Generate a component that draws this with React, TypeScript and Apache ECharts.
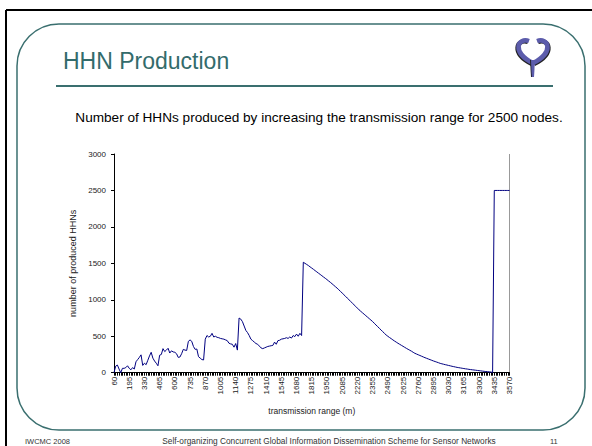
import React, { useEffect, useRef } from "react";
import * as echarts from "echarts";

// transmission range categories (m): 60 .. 3570, step 15
const ranges: string[] = [];
for (let r = 60; r <= 3570; r += 15) ranges.push(String(r));

// HHN counts
const lowRange = [
  0, 90, 105, 50, 0, 60, 60, 70, 95, 60, 40, 70, 50, 150, 180, 210, 245, 100, 130, 110,
  170, 230, 280, 200, 160, 130, 95, 240, 250, 330, 290, 310, 335, 270, 300, 285, 280, 260, 210, 215,
  260, 320, 310, 305, 430, 450, 430, 360, 320, 325, 220, 200, 180, 175, 460, 510, 490, 500, 540, 490,
  500, 485, 480, 470, 465, 460, 450, 440, 405, 395, 390, 350, 400, 310, 750, 735, 700, 640, 580, 550,
  510, 460, 440, 420, 400, 390, 365, 340, 330, 340, 350, 360, 365, 370, 375, 420, 390, 440, 445, 460,
  465, 470, 480, 470, 490, 475, 510, 495, 530, 500, 540, 510,
];
const decline = [
  1515, 1500, 1485, 1470, 1452, 1435, 1418, 1400, 1383, 1365, 1348, 1330, 1312, 1295, 1277, 1258, 1240, 1220, 1200, 1180,
  1160, 1138, 1115, 1093, 1070, 1047, 1024, 1001, 978, 955, 932, 909, 886, 862, 842, 822, 802, 782, 762, 742,
  722, 702, 678, 655, 632, 609, 586, 563, 540, 518, 500, 483, 467, 450, 434, 419, 404, 390, 376, 362,
  348, 334, 321, 308, 295, 280, 266, 256, 246, 236, 226, 216, 206, 197, 188, 179, 170, 161, 153, 145,
  137, 128, 122, 116, 110, 105, 99, 94, 88, 83, 78, 73, 69, 65, 61, 57, 53, 50, 46, 43,
  40, 37, 34, 31, 28, 25, 22, 19, 16, 14, 11, 9, 3,
];
const saturated = [2500, 2500, 2500, 2500, 2500, 2500, 2500, 2500, 2500, 2500];
const hhnCounts = [...lowRange, ...decline, ...saturated];

const yTicks = { min: 0, max: 3000, interval: 500 };

const TEAL = "#3a6f6f";
const FONT = "Liberation Sans, Arial";
const LOGO = "#5c5cab";

export default function App() {
  const ref = useRef<HTMLDivElement>(null);
  useEffect(() => {
    document.body.style.margin = "0";
    const chart = echarts.init(ref.current!, null, { renderer: "svg" });
    chart.setOption({
      animation: false,
      backgroundColor: "#ffffff",
      grid: { left: 114, top: 154, right: 82.5, bottom: 73.3, containLabel: false },
      xAxis: {
        type: "category",
        data: ranges,
        boundaryGap: false,
        name: "transmission range (m)",
        nameLocation: "middle",
        nameGap: 34,
        nameTextStyle: { fontFamily: FONT, fontSize: 8.5, color: "#222" },
        axisLine: { lineStyle: { color: "#000", width: 1 } },
        axisTick: { show: true, interval: 0, length: 3, lineStyle: { color: "#000" } },
        axisLabel: {
          interval: 8,
          rotate: 90,
          fontFamily: FONT,
          fontSize: 8,
          color: "#222",
          margin: 4,
        },
        splitLine: { show: false },
      },
      yAxis: {
        type: "value",
        min: yTicks.min,
        max: yTicks.max,
        interval: yTicks.interval,
        name: "number of produced HHNs",
        nameLocation: "middle",
        nameGap: 30,
        nameRotate: 90,
        nameTextStyle: { fontFamily: FONT, fontSize: 9, color: "#222" },
        axisLine: { show: true, lineStyle: { color: "#000", width: 1 } },
        axisTick: { show: true, length: 3, lineStyle: { color: "#000" } },
        axisLabel: {
          fontFamily: FONT,
          fontSize: 8,
          color: "#222",
          margin: 8,
          formatter: (v: number) => String(v),
        },
        splitLine: { show: false },
      },
      series: [
        {
          type: "line",
          data: hhnCounts,
          symbol: "none",
          lineStyle: { color: "#000080", width: 1 },
          itemStyle: { color: "#000080" },
        },
      ],
      graphic: [
        // slide frame
        { type: "line", shape: { x1: 6, y1: 10, x2: 592, y2: 10 }, style: { stroke: "#000", lineWidth: 2 } },
        { type: "line", shape: { x1: 6, y1: 10, x2: 6, y2: 446 }, style: { stroke: "#000", lineWidth: 2 } },
        {
          type: "rect",
          shape: { x: 17, y: 24, width: 568, height: 406, r: 42 },
          style: { fill: "none", stroke: TEAL, lineWidth: 1.5 },
        },
        // title
        {
          type: "text",
          x: 63,
          y: 61,
          style: {
            text: "HHN Production",
            fontFamily: FONT,
            fontSize: 23,
            fill: "#336b6b",
            verticalAlign: "middle",
            shadowColor: "rgba(0,0,0,0.35)",
            shadowOffsetX: 1,
            shadowOffsetY: 1,
            shadowBlur: 1,
          },
        },
        { type: "line", shape: { x1: 56, y1: 86, x2: 553, y2: 86 }, style: { stroke: TEAL, lineWidth: 2 } },
        // logo
        {
          type: "group",
          children: [
            {
              type: "bezierCurve",
              shape: { x1: 529, y1: 41, cpx1: 518, cpy1: 37, cpx2: 511, cpy2: 52, x2: 533, y2: 63 },
              style: { stroke: LOGO, lineWidth: 4.5, fill: "none", shadowColor: "#222", shadowOffsetX: -1, shadowOffsetY: 1 },
            },
            {
              type: "bezierCurve",
              shape: { x1: 537, y1: 41, cpx1: 548, cpy1: 37, cpx2: 555, cpy2: 52, x2: 533, y2: 63 },
              style: { stroke: LOGO, lineWidth: 4.5, fill: "none", shadowColor: "#222", shadowOffsetX: 1, shadowOffsetY: 1 },
            },
            {
              type: "polygon",
              shape: { points: [[531, 60], [535, 60], [534, 77], [532, 77]] },
              style: { fill: LOGO, shadowColor: "#222", shadowOffsetX: -1 },
            },
          ],
        },
        // subtitle
        {
          type: "text",
          x: 319,
          y: 117,
          style: {
            text: "Number of HHNs produced by increasing the transmission range for 2500 nodes.",
            fontFamily: FONT,
            fontSize: 13.6,
            fill: "#000",
            align: "center",
            verticalAlign: "middle",
          },
        },
        // plot area right border
        { type: "line", shape: { x1: 509.5, y1: 154, x2: 509.5, y2: 372.7 }, style: { stroke: "#999", lineWidth: 1 } },
        // footer
        {
          type: "text",
          x: 25,
          y: 441,
          style: { text: "IWCMC 2008", fontFamily: FONT, fontSize: 7.5, fill: "#333", verticalAlign: "middle" },
        },
        {
          type: "text",
          x: 329,
          y: 441,
          style: {
            text: "Self-organizing Concurrent Global Information Dissemination Scheme for Sensor Networks",
            fontFamily: FONT,
            fontSize: 8.3,
            fill: "#333",
            align: "center",
            verticalAlign: "middle",
          },
        },
        {
          type: "text",
          x: 550,
          y: 441,
          style: { text: "11", fontFamily: FONT, fontSize: 7.5, fill: "#333", verticalAlign: "middle" },
        },
      ],
    });
    return () => chart.dispose();
  }, []);
  return <div ref={ref} style={{ width: 592, height: 446 }} />;
}
